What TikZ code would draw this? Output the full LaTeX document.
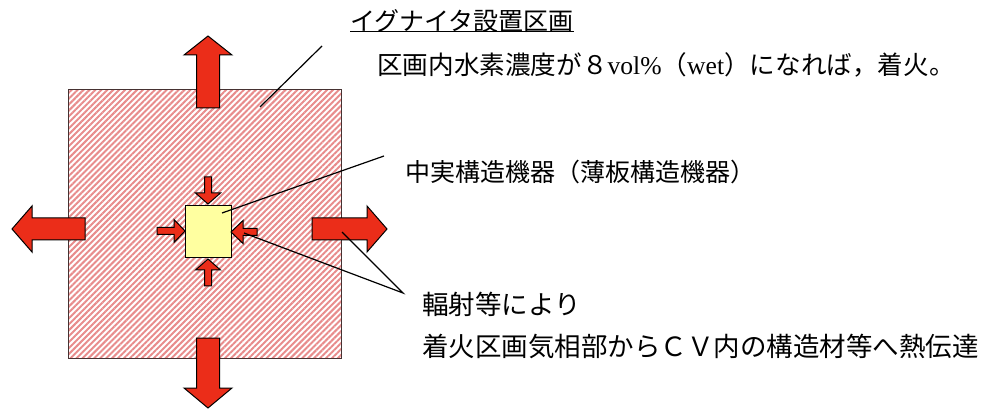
\documentclass[tikz,border=0pt]{standalone}
\usepackage{fontspec}
\newfontfamily\jp{Noto Sans CJK JP}
\newfontfamily\lat{Liberation Serif}
\usetikzlibrary{calc,patterns.meta}
\definecolor{arrred}{RGB}{235,45,25}
\definecolor{hatchpink}{RGB}{232,140,140}
\definecolor{equipyellow}{RGB}{255,255,160}
\definecolor{edgegray}{RGB}{70,50,50}
\newcommand\blockarr[5]{%
  \coordinate (hb) at ($(#2)!#5!(#1)$);
  \draw[blockarrow] ($(#1)!#3!90:(#2)$) -- ($(hb)!#3!90:(#2)$) -- ($(hb)!#4!90:(#2)$) -- (#2)
    -- ($(hb)!#4!-90:(#2)$) -- ($(hb)!#3!-90:(#2)$) -- ($(#1)!#3!-90:(#2)$) -- cycle;}
\tikzset{
  blockarrow/.style={fill=arrred, draw=black, line width=1pt, line join=miter},
  region/.style={draw=edgegray, line width=1pt, inner sep=0pt,
    pattern={Lines[angle=45,distance=4.2pt,line width=2pt]}, pattern color=hatchpink},
  equip/.style={draw=black, line width=1pt, fill=equipyellow, inner sep=0pt},
  leader/.style={draw=black, line width=1.2pt},
  lbl/.style={anchor=west, inner sep=0pt, text=black, font=\jp\fontsize{25}{30}\selectfont},
}
\begin{document}
\begin{tikzpicture}[x=1pt,y=-1pt]
\useasboundingbox (0,0) rectangle (992,411);
% compartment
\node[region, minimum width=273pt, minimum height=268pt, anchor=north west] (room) at (67,89) {};
% big arrows
\coordinate (upT) at (208,108); \coordinate (upH) at (208,36);
\coordinate (dnT) at (208,338); \coordinate (dnH) at (208,408);
\coordinate (lfT) at (85,229);  \coordinate (lfH) at (12,229);
\coordinate (rtT) at (312,229); \coordinate (rtH) at (387,229);
\blockarr{upT}{upH}{11.5pt}{24pt}{19pt}
\blockarr{dnT}{dnH}{11.5pt}{24pt}{20pt}
\blockarr{lfT}{lfH}{11pt}{23pt}{20pt}
\blockarr{rtT}{rtH}{11pt}{23pt}{20pt}
% equipment
\node[equip, minimum width=46pt, minimum height=52pt] (eq) at (208,232) {};
% small arrows
\coordinate (sUT) at (208,177); \coordinate (sUH) at (208,204);
\coordinate (sDT) at (208,286); \coordinate (sDH) at (208,259);
\coordinate (sLT) at (157,231); \coordinate (sLH) at (185,231);
\coordinate (sRT) at (257,232); \coordinate (sRH) at (231,232);
\blockarr{sUT}{sUH}{3.5pt}{12.5pt}{11pt}
\blockarr{sDT}{sDH}{3.5pt}{12.5pt}{11pt}
\blockarr{sLT}{sLH}{3.5pt}{11.5pt}{11pt}
\blockarr{sRT}{sRH}{3.5pt}{11.5pt}{12pt}
% texts
\node[lbl] (title) at (350,21) {イグナイタ設置区画};
\draw[line width=1.2pt] ([yshift=1pt]title.south west) -- ([yshift=1pt]title.south east);
\node[lbl, font=\jp\fontsize{25.6}{30}\selectfont] (cond) at (377,65) {区画内水素濃度が８{\lat vol\%}（{\lat wet}）になれば，着火。};
\node[lbl, font=\jp\fontsize{25}{30}\selectfont] (eqtext) at (405,172) {中実構造機器（薄板構造機器）};
\node[lbl, font=\jp\fontsize{26.5}{30}\selectfont] (heat1) at (422,304) {輻射等により};
\node[lbl, font=\jp\fontsize{26.5}{30}\selectfont] (heat2) at (422,346) {着火区画気相部からＣＶ内の構造材等へ熱伝達};
% leaders
\coordinate (l1a) at (322,46);  \coordinate (l1b) at (260,107);
\coordinate (l2a) at (384,156); \coordinate (l2b) at (222,213);
\coordinate (l3a) at (403,293); \coordinate (l3b) at (342,232); \coordinate (l3c) at (244,233);
\draw[leader] (l1a) -- (l1b);
\draw[leader] (l2a) -- (l2b);
\draw[leader] (l3b) -- (l3a) -- (l3c);
\end{tikzpicture}
\end{document}
